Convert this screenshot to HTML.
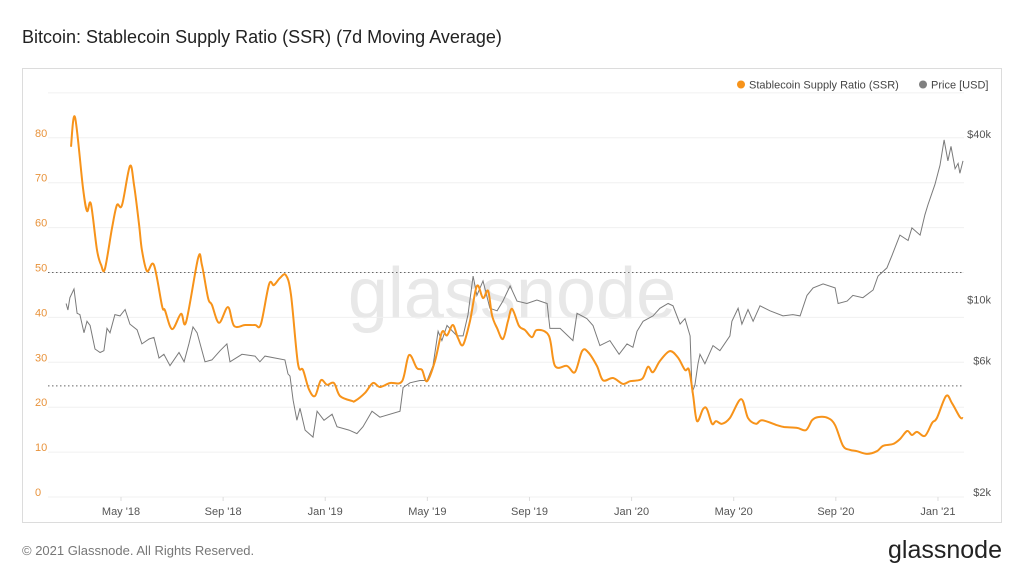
<!DOCTYPE html>
<html><head><meta charset="utf-8"><style>
html,body{margin:0;padding:0;background:#fff;width:1024px;height:576px;overflow:hidden}
svg{display:block;font-family:"Liberation Sans",sans-serif}
</style></head><body>
<svg id="chart" width="1024" height="576" viewBox="0 0 1024 576">
<text x="22" y="43" font-size="18" fill="#222">Bitcoin: Stablecoin Supply Ratio (SSR) (7d Moving Average)</text>
<rect x="22.5" y="68.5" width="979" height="454" fill="#fff" stroke="#dcdcdc"/>
<text x="512" y="318" font-size="72" fill="#e8e8e8" text-anchor="middle">glassnode</text>
<g id="grid"></g>
<g id="axes"></g>
<g id="series"></g>
<g>
<circle cx="741" cy="84.5" r="4" fill="#f7931a"/>
<text x="749" y="88.5" font-size="11" fill="#444">Stablecoin Supply Ratio (SSR)</text>
<circle cx="923" cy="84.5" r="4" fill="#808080"/>
<text x="931" y="88.5" font-size="11" fill="#444">Price [USD]</text>
</g>
<text x="22" y="555" font-size="13" fill="#777">© 2021 Glassnode. All Rights Reserved.</text>
<text x="1002" y="558" font-size="25" fill="#222" text-anchor="end">glassnode</text>
</svg>
<script>
// months since Jan 2018
const ssrT = [2.04,2.20,2.51,2.67,2.82,3.06,3.22,3.37,3.65,3.84,4.04,4.35,4.51,4.71,4.82,5.02,5.29,5.61,5.72,6.00,6.35,6.55,7.02,7.17,7.41,7.56,7.84,8.19,8.43,8.86,9.25,9.48,9.80,9.99,10.23,10.46,10.66,10.93,11.13,11.36,11.60,11.83,12.07,12.34,12.58,13.05,13.17,13.56,13.87,14.14,14.54,15.01,15.28,15.59,15.79,15.99,16.30,16.57,16.77,17.00,17.20,17.40,17.67,17.94,18.18,18.38,18.53,18.73,18.96,19.16,19.32,19.59,19.82,20.10,20.29,20.76,21.00,21.47,21.78,22.06,22.29,22.64,22.88,23.27,23.66,23.94,24.41,24.64,24.84,25.11,25.50,25.82,26.09,26.25,26.41,26.56,26.80,26.95,27.15,27.31,27.54,27.85,28.29,28.56,28.87,29.11,29.70,29.97,30.48,30.83,31.07,31.30,31.69,31.97,32.28,32.56,32.83,33.22,33.61,33.85,34.24,34.51,34.79,34.98,35.18,35.49,35.77,35.96,36.32,36.55,36.86,36.98];
const ssrV = [78,84.6,68.8,63.7,65.3,55,51.7,50.8,60,65,65,73.7,69.5,60.6,55,50.3,51.7,42.5,41.6,37.4,40.8,39,53.2,51.7,44.3,42.8,38.8,42.3,38.1,38.3,38.3,38.5,47.4,47.2,48.8,49.4,45,29.8,28.3,24,22.5,26,25,25.4,22.5,21.4,21.4,23.2,25.4,24.5,25.4,25.8,31.6,28.7,28.3,25.8,30.3,36.7,36,38.3,35.4,33.9,39.2,47,44.3,45.9,40.5,37.6,35.2,39.2,41.9,38.1,37.2,35.6,37.2,35.9,29.2,29.2,27.8,32.5,32.3,29.2,26,26.5,25.2,25.8,26.3,29,27.8,30.3,32.5,31,28.3,28.3,22.7,16.9,19.6,19.6,16.3,16.9,16.3,17.6,21.8,17.6,16.3,17.1,16,15.6,15.4,14.9,17.1,17.8,17.6,16,11.4,10.5,10.2,9.6,10.2,11.4,11.8,12.9,14.7,13.8,14.5,13.6,16.5,17.6,22.5,20.9,17.8,17.6];
const priceT = [1.85,1.92,2.00,2.16,2.28,2.39,2.55,2.67,2.79,2.98,3.18,3.33,3.45,3.57,3.76,3.96,4.16,4.35,4.63,4.82,5.10,5.29,5.49,5.68,5.92,6.27,6.47,6.66,6.82,6.98,7.29,7.56,7.88,8.15,8.27,8.74,9.25,9.44,9.64,10.03,10.42,10.54,10.62,10.74,10.89,11.01,11.21,11.52,11.68,11.95,12.27,12.46,12.93,13.24,13.48,13.83,14.14,14.93,15.05,15.32,15.71,15.99,16.22,16.42,16.57,16.77,17.16,17.40,17.59,17.79,17.94,18.18,18.45,18.73,18.96,19.24,19.51,19.90,20.29,20.69,20.80,21.20,21.70,21.86,22.25,22.49,22.76,23.15,23.51,23.82,24.05,24.21,24.45,24.84,25.11,25.43,25.62,25.90,26.09,26.29,26.37,26.48,26.60,26.68,26.87,27.19,27.46,27.85,27.93,28.17,28.32,28.56,28.76,29.03,29.42,29.93,30.32,30.60,30.87,31.11,31.50,31.97,32.09,32.44,32.67,33.06,33.46,33.65,34.00,34.20,34.51,34.83,34.98,35.30,35.49,35.61,35.88,36.08,36.24,36.39,36.51,36.67,36.79,36.86,36.98];
const priceV = [10100,9560,10600,11400,9300,9200,7900,8700,8400,6900,6700,6800,8200,7900,9200,9100,9600,8500,8100,7200,7500,7600,6400,6600,6000,6700,6200,7200,8300,7900,6200,6300,6800,7200,6200,6600,6500,6200,6500,6400,6300,5600,5500,4500,3800,4200,3500,3300,4100,3800,4000,3600,3500,3400,3600,4100,3900,4100,5000,5200,5300,5300,6000,8000,7400,8400,7700,7700,9200,12700,10800,12200,9700,9500,10300,11700,10300,10100,10400,10100,8200,8200,7400,9300,8900,8400,7100,7400,6600,7200,7000,8000,8700,9100,9700,10100,9900,8500,8900,7700,4800,5100,6100,6600,6100,7100,6800,7700,8700,9700,8500,9600,8700,9900,9500,9100,9200,9100,10800,11500,11900,11500,10100,10300,10800,10600,11300,12700,13600,15100,17900,17100,19000,17900,21200,23100,27300,32100,39700,33300,37600,31200,32600,30000,33300];
const xTickT = [4,8,12,16,20,24,28,32,36];
const xTickLabels = ["May '18","Sep '18","Jan '19","May '19","Sep '19","Jan '20","May '20","Sep '20","Jan '21"];
const yLeftTicks = [0,10,20,30,40,50,60,70,80];
const yRightTicks = [2000,6000,10000,40000];
const yRightLabels = ["$2k","$6k","$10k","$40k"];
const dottedSSR = [50,24.75];

const NS="http://www.w3.org/2000/svg";
const X0=48,X1=964,Y0=497;
const xS=t=>121+(t-4)*25.53;
const yL=v=>Y0-v*4.49;
const yR=p=>Y0-Math.log10(p/2000)*275.2;
function mk(tag,attrs,parent){const e=document.createElementNS(NS,tag);for(const k in attrs)e.setAttribute(k,attrs[k]);parent.appendChild(e);return e;}
function smooth(pts){
  let d='M'+pts[0][0].toFixed(1)+','+pts[0][1].toFixed(1);
  for(let i=0;i<pts.length-1;i++){
    const p0=pts[Math.max(0,i-1)],p1=pts[i],p2=pts[i+1],p3=pts[Math.min(pts.length-1,i+2)];
    const c1=[p1[0]+(p2[0]-p0[0])/6,p1[1]+(p2[1]-p0[1])/6];
    const c2=[p2[0]-(p3[0]-p1[0])/6,p2[1]-(p3[1]-p1[1])/6];
    d+='C'+c1[0].toFixed(1)+','+c1[1].toFixed(1)+' '+c2[0].toFixed(1)+','+c2[1].toFixed(1)+' '+p2[0].toFixed(1)+','+p2[1].toFixed(1);
  }
  return d;
}
const grid=document.getElementById('grid'),axes=document.getElementById('axes'),series=document.getElementById('series');
[...yLeftTicks,90].forEach(v=>{
  const l=mk('line',{x1:X0,x2:X1,y1:yL(v),y2:yL(v),stroke:'#f0f0f0'},grid);
  
  
});
dottedSSR.forEach(v=>{
  const l=mk('line',{x1:X0,x2:X1,y1:yL(v),y2:yL(v),stroke:'#666','stroke-dasharray':'1.5,2.5'},grid);
  
  
});
yLeftTicks.forEach(v=>{
  const t=mk('text',{x:35,y:yL(v)-1,'font-size':11,fill:'#e8923a'},axes);t.textContent=v;
  
  
});
yRightTicks.forEach((p,i)=>{
  const t=mk('text',{x:991,y:yR(p)-1,'font-size':11,fill:'#555','text-anchor':'end'},axes);t.textContent=yRightLabels[i];
  
  
});
xTickT.forEach((m,i)=>{
  const tk=mk('line',{x1:xS(m),x2:xS(m),y1:Y0,y2:Y0+4,stroke:'#ddd'},axes);
  
  
  const t=mk('text',{x:xS(m),y:515,'font-size':11,fill:'#555','text-anchor':'middle'},axes);t.textContent=xTickLabels[i];
  
  
});
const pp=mk('path',{d:priceT.map((t,i)=>(i?'L':'M')+xS(t).toFixed(1)+','+yR(priceV[i]).toFixed(1)).join(''),fill:'none',stroke:'#7a7a7a','stroke-width':1},series);


const sp=mk('path',{d:smooth(ssrT.map((t,i)=>[xS(t),yL(ssrV[i])])),fill:'none',stroke:'#f7931a','stroke-width':2,'stroke-linejoin':'round'},series);


</script>
</body></html>
